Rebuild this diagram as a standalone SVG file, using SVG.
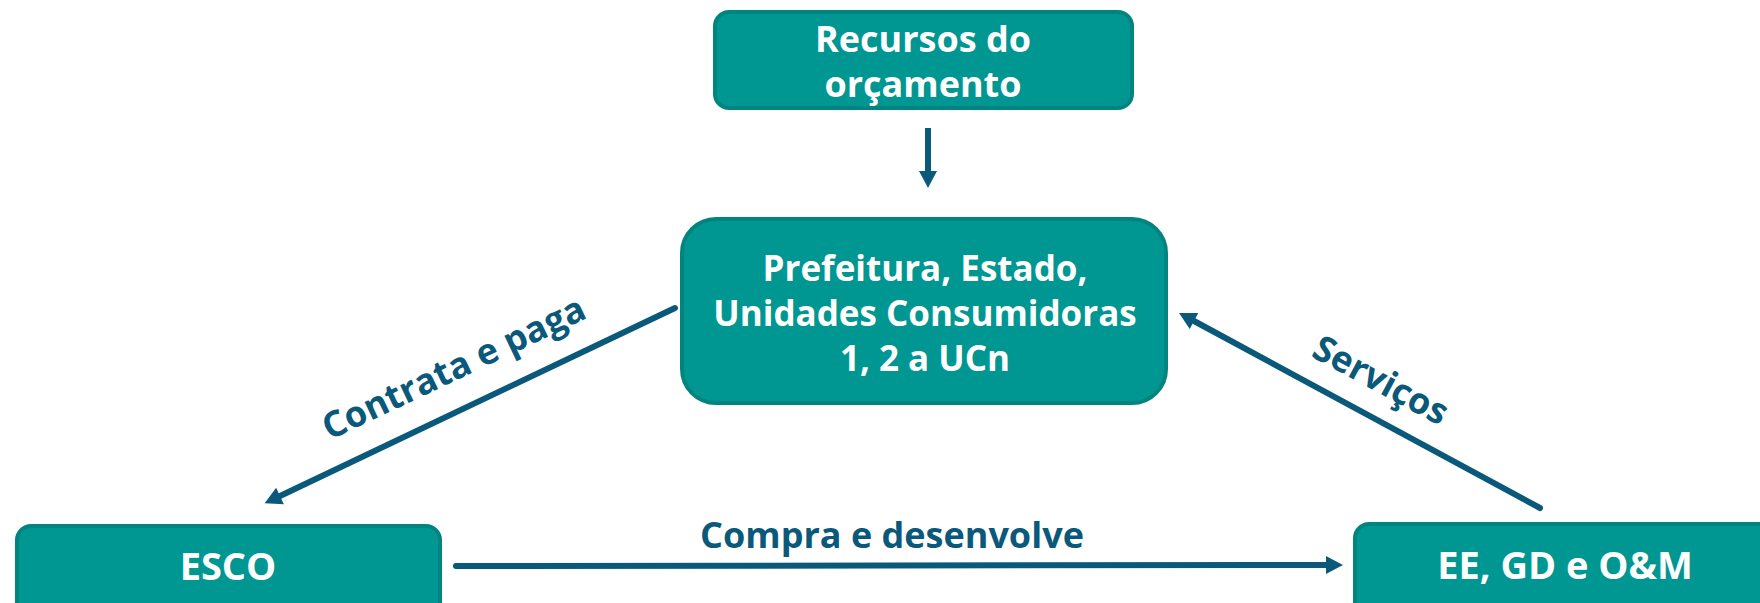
<svg xmlns="http://www.w3.org/2000/svg" width="1760" height="603" viewBox="0 0 1760 603">
<style>
.box{fill:#009691;stroke:#00847F;stroke-width:4}
.t{font-family:"Open Sans","Noto Sans","DejaVu Sans",sans-serif;font-weight:700;fill:#ffffff;text-anchor:middle}
.lbl{font-family:"Open Sans","Noto Sans","DejaVu Sans",sans-serif;font-weight:700;fill:#0A597B;text-anchor:middle}
.c{stroke:#0A597B;stroke-width:6;fill:none;stroke-linecap:round}
</style>
<defs>
<marker id="ah" markerUnits="userSpaceOnUse" markerWidth="20" markerHeight="22" viewBox="0 -11 20 22" refX="0" refY="0" orient="auto" overflow="visible">
<path d="M0,-9 L17,0 L0,9 z" fill="#0A597B"/>
</marker>
</defs>
<rect width="1760" height="603" fill="#ffffff"/>
<g id="connectors">
<path class="c" d="M928,128 L928,171" marker-end="url(#ah)" style="stroke-linecap:butt"/>
<path class="c" d="M675,308 L280,496" marker-end="url(#ah)"/>
<path class="c" d="M1540,508 L1194,321" marker-end="url(#ah)"/>
<path class="c" d="M456,566 L1326,565" marker-end="url(#ah)"/>
<text class="lbl" font-size="36" transform="translate(459,379) rotate(-25.4)">Contrata e paga</text>
<text class="lbl" font-size="36" transform="translate(1375,391) rotate(28.4)">Serviços</text>
<text class="lbl" font-size="36" x="892" y="548">Compra e desenvolve</text>
</g>
<g id="n-recursos">
<rect class="box" x="715" y="12" width="417" height="96" rx="14"/>
<text class="t" font-size="36"><tspan x="923" y="52">Recursos do</tspan><tspan x="923" y="97">orçamento</tspan></text>
</g>
<g id="n-prefeitura">
<rect class="box" x="682" y="219" width="484" height="184" rx="34"/>
<text class="t" font-size="35"><tspan x="925" y="281">Prefeitura, Estado,</tspan><tspan x="925" y="326">Unidades Consumidoras</tspan><tspan x="925" y="371">1, 2 a UCn</tspan></text>
</g>
<g id="n-esco">
<rect class="box" x="17" y="526" width="423" height="100" rx="14"/>
<text class="t" font-size="38" x="228" y="580">ESCO</text>
</g>
<g id="n-ee">
<rect class="box" x="1355" y="524" width="440" height="100" rx="14"/>
<text class="t" font-size="38" x="1565" y="579">EE, GD e O&amp;M</text>
</g>
</svg>
